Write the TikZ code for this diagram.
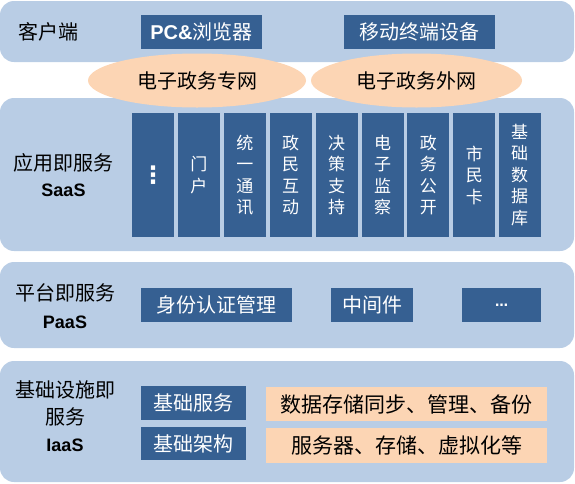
\documentclass[tikz,border=0pt]{standalone}
\usepackage{fontspec}
\setmainfont{Noto Sans CJK SC}
\newfontfamily\latinb{Liberation Sans}
\newfontfamily\symf{DejaVu Sans}
\usetikzlibrary{shapes.geometric}
\definecolor{layerbg}{RGB}{185,205,229}
\definecolor{darkbox}{RGB}{54,96,146}
\definecolor{orangebox}{RGB}{252,213,180}
\begin{document}
\begin{tikzpicture}[x=1pt,y=-1pt,
  layer/.style={rectangle,fill=layerbg,rounded corners=14pt,inner sep=0pt},
  lbl/.style={align=center,text=black,inner sep=0pt,font=\fontsize{20}{27}\selectfont},
  dbox/.style={rectangle,fill=darkbox,text=white,inner sep=0pt,font=\fontsize{20}{24}\selectfont},
  colbox/.style={rectangle,fill=darkbox,text=white,inner sep=0pt,align=center,
    minimum width=42pt,minimum height=124pt,font=\fontsize{17}{21.5}\selectfont},
  obox/.style={rectangle,fill=orangebox,text=black,inner sep=0pt,font=\fontsize{21}{24}\selectfont},
  net/.style={ellipse,fill=orangebox,inner sep=0pt,text=black,font=\fontsize{20}{24}\selectfont}
]
\useasboundingbox (0,0) rectangle (575,483);
% layers
\node[layer,minimum width=574pt,minimum height=61pt] (client) at (287,31.5) {};
\node[layer,minimum width=574pt,minimum height=153pt] (saas) at (287,174.5) {};
\node[layer,minimum width=574pt,minimum height=86pt] (paas) at (287,305) {};
\node[layer,minimum width=574pt,minimum height=121pt] (iaas) at (287,421.5) {};
% layer labels
\node[lbl] (clientlbl) at (48.5,31.5) {客户端};
\node[lbl,font=\fontsize{20}{26}\selectfont] (saaslbl) at (63.5,175) {应用即服务\\{\latinb\bfseries\fontsize{18}{26}\selectfont SaaS}};
\node[lbl,font=\fontsize{20}{28}\selectfont] (paaslbl) at (65,306) {平台即服务\\{\latinb\bfseries\fontsize{18}{28}\selectfont PaaS}};
\node[lbl] (iaaslbl) at (65,416) {基础设施即\\服务\\{\latinb\bfseries\fontsize{18}{27}\selectfont IaaS}};
% client boxes
\node[dbox,minimum width=121pt,minimum height=34pt] (pc) at (201.5,31.5) {{\latinb\bfseries PC\&}浏览器};
\node[dbox,minimum width=151pt,minimum height=34pt] (mobile) at (419.5,31.5) {移动终端设备};
% networks
\node[net,minimum width=218pt,minimum height=54pt] (net1) at (197,80.5) {电子政务专网};
\node[net,minimum width=211pt,minimum height=54pt] (net2) at (416.5,80.5) {电子政务外网};
% SaaS columns
\node[colbox,font=\symf\bfseries\fontsize{24}{24}\selectfont] (c1) at (153,175) {⋮};
\node[colbox] (c2) at (198.9,175) {门\\户};
\node[colbox] (c3) at (244.8,175) {统\\一\\通\\讯};
\node[colbox] (c4) at (290.7,175) {政\\民\\互\\动};
\node[colbox] (c5) at (336.6,175) {决\\策\\支\\持};
\node[colbox] (c6) at (382.5,175) {电\\子\\监\\察};
\node[colbox] (c7) at (428.4,175) {政\\务\\公\\开};
\node[colbox] (c8) at (474.3,175) {市\\民\\卡};
\node[colbox] (c9) at (519.5,175) {基\\础\\数\\据\\库};
% PaaS boxes
\node[dbox,minimum width=151pt,minimum height=34pt] (auth) at (216.5,305) {身份认证管理};
\node[dbox,minimum width=82pt,minimum height=34pt] (mid) at (372,305) {中间件};
\node[dbox,minimum width=79pt,minimum height=34pt,font=\symf\bfseries\fontsize{13}{16}\selectfont] (more) at (501.5,305) {…};
% IaaS boxes
\node[dbox,minimum width=105pt,minimum height=34pt] (basesvc) at (193.5,403) {基础服务};
\node[dbox,minimum width=105pt,minimum height=33pt] (basearch) at (193.5,443.5) {基础架构};
\node[obox,minimum width=281pt,minimum height=34pt] (storage) at (406.5,404) {数据存储同步、管理、备份};
\node[obox,minimum width=281pt,minimum height=35pt] (servers) at (406.5,445.5) {服务器、存储、虚拟化等};
\end{tikzpicture}
\end{document}
